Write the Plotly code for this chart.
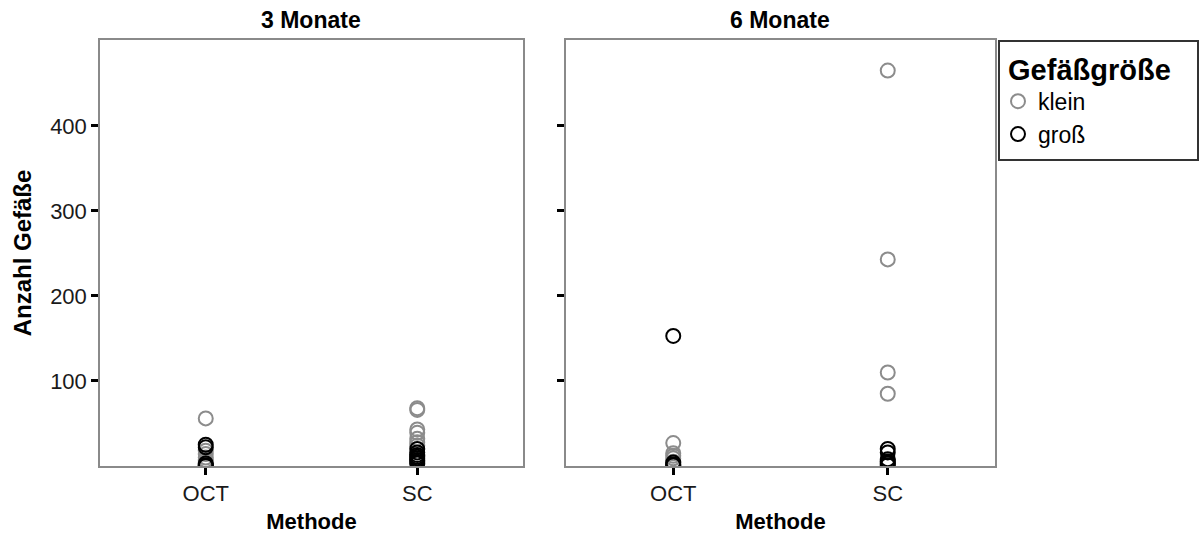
import plotly.graph_objects as go

methods = ["OCT", "SC"]
panels = ["3 Monate", "6 Monate"]
size_groups = ["klein", "groß"]

# 3 Monate
m3_oct_klein = [56, 18, 14, 10, 7, 4, 2]
m3_oct_gross = [25, 22, 3, 1, 0]
m3_sc_klein = [68, 66, 43, 39, 32, 28, 24]
m3_sc_gross = [20, 16, 13, 11, 9, 7, 5, 3]

# 6 Monate
m6_oct_klein = [27, 15, 12, 9, 5]
m6_oct_gross = [153, 4, 2, 1]
m6_sc_klein = [465, 243, 110, 85, 6, 4]
m6_sc_gross = [20, 16, 8, 5, 3, 1]

colors = {"klein": "#8C8C8C", "groß": "#000000"}
FONT = "Liberation Sans, Arial, Helvetica, sans-serif"

data = {
    ("3 Monate", "klein"): (m3_oct_klein, m3_sc_klein),
    ("3 Monate", "groß"): (m3_oct_gross, m3_sc_gross),
    ("6 Monate", "klein"): (m6_oct_klein, m6_sc_klein),
    ("6 Monate", "groß"): (m6_oct_gross, m6_sc_gross),
}

fig = go.Figure()
for pi, panel in enumerate(panels):
    ax = "" if pi == 0 else str(pi + 1)
    for grp in size_groups:
        oct_v, sc_v = data[(panel, grp)]
        xs = [methods[0]] * len(oct_v) + [methods[1]] * len(sc_v)
        ys = list(oct_v) + list(sc_v)
        fig.add_trace(go.Scatter(
            x=xs, y=ys, mode="markers", name=grp,
            legendgroup=grp, showlegend=(pi == 0),
            xaxis="x" + ax, yaxis="y" + ax,
            marker=dict(symbol="circle-open", size=14, color=colors[grp],
                        line=dict(width=2, color=colors[grp])),
        ))

W, H = 1201, 537
x1 = [100 / W, 523 / W]
x2 = [566 / W, 995 / W]
yd = [1 - 466 / H, 1 - 40 / H]

axis_common = dict(showline=True, mirror=True, linecolor="#8A8A8A", linewidth=1.5,
                   showgrid=False, zeroline=False, ticks="outside", ticklen=7,
                   tickwidth=3, tickcolor="black",
                   tickfont=dict(family=FONT, size=22, color="#1A1A1A"))

fig.update_layout(
    width=W, height=H, autosize=False,
    margin=dict(l=0, r=0, t=0, b=0),
    plot_bgcolor="white", paper_bgcolor="white",
    font=dict(family=FONT, color="black"),
    xaxis=dict(domain=x1, anchor="y", type="category", range=[-0.5, 1.5],
               categoryorder="array", categoryarray=methods,
               title=dict(text="<b>Methode</b>", font=dict(family=FONT, size=22), standoff=8),
               **axis_common),
    xaxis2=dict(domain=x2, anchor="y2", type="category", range=[-0.5, 1.5],
                categoryorder="array", categoryarray=methods,
                title=dict(text="<b>Methode</b>", font=dict(family=FONT, size=22), standoff=8),
                **axis_common),
    yaxis=dict(domain=yd, anchor="x", range=[0, 501], tickvals=[100, 200, 300, 400],
               title=dict(text="<b>Anzahl Gefäße</b>", font=dict(family=FONT, size=24), standoff=12),
               **axis_common),
    yaxis2=dict(domain=yd, anchor="x2", range=[0, 501], tickvals=[100, 200, 300, 400],
                showticklabels=False, **axis_common),
    legend=dict(x=998 / W, y=1 - 42 / H, xanchor="left", yanchor="top",
                borderwidth=0, bgcolor="rgba(0,0,0,0)",
                title=dict(text="&nbsp;<b>Gefäßgröße</b>", font=dict(family=FONT, size=29)),
                font=dict(family=FONT, size=23, color="black"),
                itemsizing="trace", itemwidth=30, tracegroupgap=0),
    shapes=[dict(type="rect", xref="paper", yref="paper",
                 x0=999 / W, x1=1198 / W, y0=1 - 160 / H, y1=1 - 41 / H,
                 line=dict(color="#333333", width=2), fillcolor="rgba(0,0,0,0)", layer="above")],
    annotations=[
        dict(text="<b>3 Monate</b>", x=(x1[0] + x1[1]) / 2, y=1 - 20 / H, xref="paper", yref="paper",
             showarrow=False, font=dict(family=FONT, size=23), xanchor="center", yanchor="middle"),
        dict(text="<b>6 Monate</b>", x=(x2[0] + x2[1]) / 2, y=1 - 20 / H, xref="paper", yref="paper",
             showarrow=False, font=dict(family=FONT, size=23), xanchor="center", yanchor="middle"),
    ],
)

fig.write_html("out.html")
